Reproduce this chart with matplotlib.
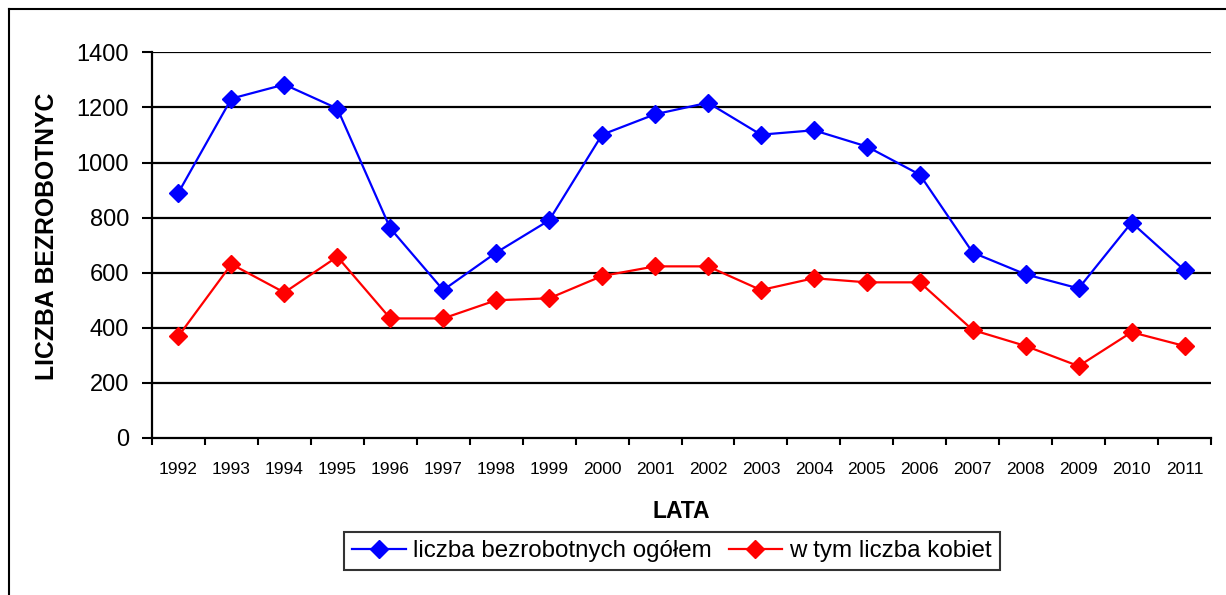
import numpy as np
import matplotlib
matplotlib.use("Agg")
import matplotlib.pyplot as plt
from matplotlib.lines import Line2D

# Data
years = ['1992', '1993', '1994', '1995', '1996', '1997', '1998', '1999', '2000', '2001',
         '2002', '2003', '2004', '2005', '2006', '2007', '2008', '2009', '2010', '2011']
total_unemployed = [891, 1232, 1283, 1196, 761, 537, 673, 790, 1101, 1175,
                    1217, 1101, 1117, 1058, 956, 673, 594, 543, 782, 609]
women_unemployed = [370, 631, 528, 658, 434, 434, 500, 507, 588, 623,
                    623, 537, 580, 565, 565, 392, 334, 261, 384, 334]

label_total = 'liczba bezrobotnych ogółem'
label_women = 'w tym liczba kobiet'

plt.rcParams.update({
    "font.family": ["Liberation Sans", "DejaVu Sans"],
})

fig = plt.figure(figsize=(12.26, 5.95), dpi=100)
ax = fig.add_axes([152 / 1226, 1 - 438 / 595, (1211 - 152) / 1226, (438 - 52.3) / 595])

x = np.arange(len(years))
ax.plot(x, total_unemployed, color='#0000FF', lw=1.6, marker='D', markersize=9,
        label=label_total, zorder=3)
ax.plot(x, women_unemployed, color='#FF0000', lw=1.6, marker='D', markersize=9,
        label=label_women, zorder=3)

ax.set_xlim(-0.5, len(years) - 0.5)
ax.set_ylim(0, 1400)
ax.set_yticks(np.arange(0, 1401, 200))
ax.tick_params(axis='y', labelsize=17, length=7.5, width=1.5, direction='out', pad=9)
for yv in np.arange(200, 1401, 200):
    ax.axhline(yv, color='black', lw=1.6, zorder=1)

# year labels at category centres, tick marks on category boundaries
ax.set_xticks(x)
ax.set_xticklabels(years)
ax.tick_params(axis='x', which='major', length=0, labelsize=12.5, pad=17)
ax.set_xticks(np.arange(-0.5, len(years)), minor=True)
ax.tick_params(axis='x', which='minor', length=5, width=1.5, direction='out')

for side in ['top', 'right']:
    ax.spines[side].set_visible(False)
ax.spines['left'].set_linewidth(1.6)
ax.spines['bottom'].set_linewidth(1.6)

fig.text(47 / 1226, 1 - 236 / 595, 'LICZBA BEZROBOTNYC', rotation=90, fontsize=17.8,
         fontweight='bold', ha='center', va='center')
fig.text(681 / 1226, 1 - 511 / 595, 'LATA', fontsize=16.5, fontweight='bold',
         ha='center', va='center')

leg = fig.legend(loc='center', bbox_to_anchor=(672 / 1226, 1 - 551 / 595), ncol=2,
                 fontsize=17.4, frameon=True, fancybox=False, shadow=False,
                 handlelength=2.2, handletextpad=0.3, columnspacing=0.7,
                 borderpad=0.35, borderaxespad=0)
leg.get_frame().set_edgecolor('black')
leg.get_frame().set_linewidth(1.5)

# outer chart border (top and left visible)
fig.add_artist(Line2D([8.5 / 1226, 8.5 / 1226], [0, 1 - 8.5 / 595], color='black', lw=1.5,
                      transform=fig.transFigure))
fig.add_artist(Line2D([8.5 / 1226, 1], [1 - 8.5 / 595, 1 - 8.5 / 595], color='black', lw=1.5,
                      transform=fig.transFigure))

fig.savefig('out.png', dpi=100)
